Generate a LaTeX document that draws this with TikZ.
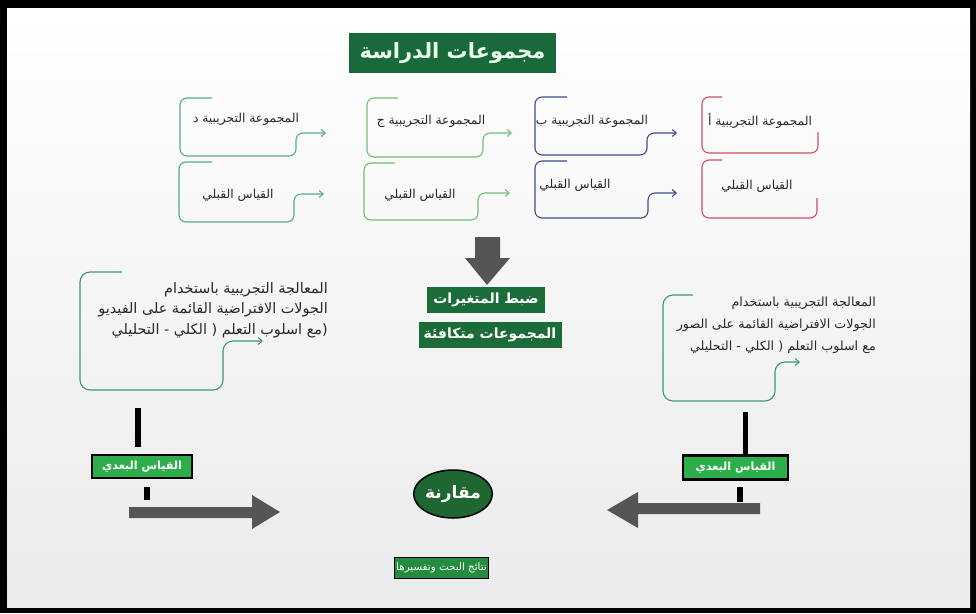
\documentclass[tikz,border=0pt]{standalone}
\usepackage{fontspec}
\usetikzlibrary{arrows.meta,shapes.geometric}
\TeXXeTstate=1
\setmainfont[Script=Arabic]{DejaVu Sans}
\newcommand\RL[1]{\beginR#1\endR}

\definecolor{titlegreen}{RGB}{24,106,58}
\definecolor{boxgreen}{RGB}{28,108,58}
\definecolor{postgreen}{RGB}{46,174,74}
\definecolor{cmpgreen}{RGB}{30,102,50}
\definecolor{resgreen}{RGB}{36,140,62}
\definecolor{colD}{RGB}{88,172,132}
\definecolor{colJ}{RGB}{112,192,118}
\definecolor{colB}{RGB}{62,76,140}
\definecolor{colA}{RGB}{208,78,92}
\definecolor{treat}{RGB}{60,152,124}
\definecolor{arrowgray}{RGB}{85,85,85}
\definecolor{txt}{RGB}{40,40,40}

\begin{document}
\begin{tikzpicture}[x=1pt,y=-1pt,
  bracket/.style={line width=1.1pt, rounded corners=7pt},
  tipped/.style={-{Straight Barb[length=4pt,width=7pt]}},
  grptext/.style={text=txt, font=\fontsize{12.3}{14}\selectfont, inner sep=0pt},
  treattext/.style={text=txt, align=right, inner sep=0pt},
  darkbox/.style={fill=boxgreen, text=white, font=\bfseries\fontsize{14}{16}\selectfont, inner sep=0pt},
  postbox/.style={fill=postgreen, draw=black, line width=2.5pt, text=white,
    font=\bfseries\fontsize{11.2}{13}\selectfont, inner sep=0pt},
  bigarrow/.style={fill=arrowgray}
]
\useasboundingbox (0,0) rectangle (976,613);

% frame and background
\fill[black] (0,0) rectangle (976,613);
\shade[top color=white, middle color=white, bottom color=black!8] (7,8) rectangle (970,607);

% title
\node[fill=titlegreen, text=white!92!green, font=\bfseries\fontsize{21}{24}\selectfont,
  minimum width=207, minimum height=40, inner sep=0pt] (title) at (452.5,53) {\RL{مجموعات الدراسة}};

% experimental groups (row 1) and pre-tests (row 2)
\draw[bracket, colD, tipped] (212,98) -- (180,98) -- (180,156) -- (296,156) -- (296,133) -- (326,133);
\draw[bracket, colD, tipped] (212,162) -- (179,162) -- (179,222) -- (294,222) -- (294,194) -- (324,194);
\draw[bracket, colJ, tipped] (398,98) -- (367,98) -- (367,157) -- (483,157) -- (483,133) -- (512,133);
\draw[bracket, colJ, tipped] (395,163) -- (364,163) -- (364,220) -- (478,220) -- (478,193) -- (510,193);
\draw[bracket, colB, tipped] (567,97) -- (535,97) -- (535,155) -- (647,155) -- (647,133) -- (677,133);
\draw[bracket, colB, tipped] (567,161) -- (535,161) -- (535,218) -- (648,218) -- (648,193) -- (677,193);
\draw[bracket, colA] (722,97) -- (702,97) -- (702,153) -- (818,153) -- (818,132);
\draw[bracket, colA] (722,160) -- (702,160) -- (702,218) -- (817,218) -- (817,198);

\node[grptext] (gD) at (246,119) {\RL{المجموعة التجريبية د}};
\node[grptext] (pD) at (238,195) {\RL{القياس القبلي}};
\node[grptext] (gJ) at (431,121) {\RL{المجموعة التجريبية ج}};
\node[grptext] (pJ) at (420,195) {\RL{القياس القبلي}};
\node[grptext] (gB) at (592,121) {\RL{المجموعة التجريبية ب}};
\node[grptext] (pB) at (575,185) {\RL{القياس القبلي}};
\node[grptext] (gA) at (760,121) {\RL{المجموعة التجريبية أ}};
\node[grptext] (pA) at (757,186) {\RL{القياس القبلي}};

% central arrow and control boxes
\fill[bigarrow] (475,237) -- (500,237) -- (500,258) -- (510,258) -- (487,285)
  -- (465,258) -- (475,258) -- cycle;
\node[darkbox, minimum width=118, minimum height=26] (ctrl) at (486,300) {\RL{ضبط المتغيرات}};
\node[darkbox, minimum width=143, minimum height=26] (equiv) at (490,335) {\RL{المجموعات متكافئة}};

% treatments
\draw[bracket, treat, rounded corners=10pt, tipped] (122,272) -- (80,272) -- (80,390) -- (223,390) -- (223,341) -- (263,341);
\node[treattext, font=\fontsize{14.4}{20.5}\selectfont, anchor=north east] (tL) at (328,282) {%
  \RL{المعالجة التجريبية باستخدام}\\
  \RL{الجولات الافتراضية القائمة على الفيديو}\\
  \RL{(مع اسلوب التعلم ( الكلي - التحليلي}};

\draw[bracket, treat, rounded corners=10pt, tipped] (693,295) -- (663,295) -- (663,401) -- (775,401) -- (775,362) -- (800,362);
\node[treattext, font=\fontsize{12.7}{22}\selectfont, anchor=north east] (tR) at (876,297) {%
  \RL{المعالجة التجريبية باستخدام}\\
  \RL{الجولات الافتراضية القائمة على الصور}\\
  \RL{مع اسلوب التعلم ( الكلي - التحليلي}};

% post-tests
\fill (135,408) rectangle (141,447);
\node[postbox, minimum width=100, minimum height=23] (postL) at (142,466.5) {\RL{القياس البعدي}};
\fill (144,487) rectangle (150,500);
\fill[bigarrow] (129,507) -- (252,507) -- (252,495) -- (280,512) -- (252,529) -- (252,518) -- (129,518) -- cycle;

\fill (743,412) rectangle (748,455);
\node[postbox, minimum width=105, minimum height=24] (postR) at (735.5,467.5) {\RL{القياس البعدي}};
\fill (737,487) rectangle (743,502);
\fill[bigarrow] (760,503) -- (638,503) -- (638,492) -- (607,510) -- (638,528) -- (638,514) -- (760,514) -- cycle;

% comparison and results
\node[ellipse, fill=cmpgreen, draw=black, line width=1.5pt, minimum width=68, minimum height=48,
  inner sep=0pt, text=white, font=\bfseries\fontsize{17}{19}\selectfont] (cmp) at (453,494) {\RL{مقارنة}};
\node[fill=resgreen, draw=black, line width=1.5pt, minimum width=94, minimum height=21, inner sep=0pt,
  text=white, font=\fontsize{10.3}{12}\selectfont] (res) at (441.5,568) {\RL{نتائج البحث وتفسيرها}};
\end{tikzpicture}
\end{document}
